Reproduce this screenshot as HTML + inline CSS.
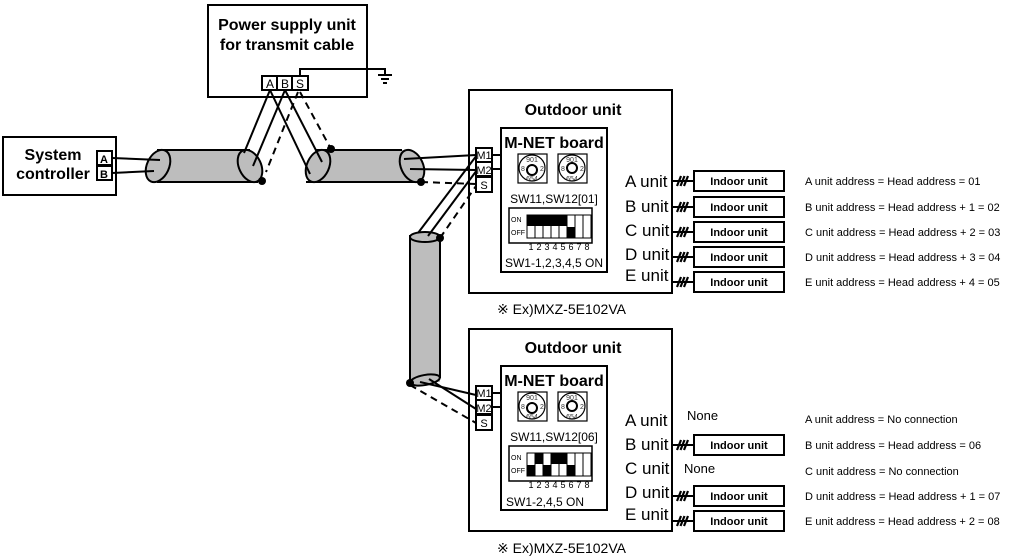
<!DOCTYPE html>
<html><head><meta charset="utf-8"><style>
body{margin:0;background:#fff}
svg{display:block;font-family:"Liberation Sans",sans-serif}
.b{font-weight:bold}
</style></head><body>
<svg width="1020" height="558" viewBox="0 0 1020 558" xmlns="http://www.w3.org/2000/svg">
<g fill="none" stroke="#000" stroke-width="2">
<rect x="208" y="5" width="159" height="92" fill="#fff"/>
<rect x="3" y="137" width="113" height="58" fill="#fff"/>
<rect x="469" y="90" width="203" height="203"/>
<rect x="469" y="329" width="203" height="202"/>
</g>
<text x="287" y="30" text-anchor="middle" class="b" font-size="16">Power supply unit</text>
<text x="287" y="50" text-anchor="middle" class="b" font-size="16">for transmit cable</text>
<text x="53" y="160" text-anchor="middle" class="b" font-size="16">System</text>
<text x="53" y="179" text-anchor="middle" class="b" font-size="16">controller</text>

<g stroke="#000" stroke-width="2" fill="#fff">
<rect x="262" y="76" width="15" height="14"/><rect x="277" y="76" width="15" height="14"/><rect x="292" y="76" width="16" height="14"/>
<rect x="97" y="151" width="15" height="14"/><rect x="97" y="166" width="15" height="14"/>
</g>
<g font-size="12" text-anchor="middle">
<text x="270" y="88">A</text><text x="285" y="88">B</text><text x="300" y="88">S</text>
<text x="104" y="163" class="b" font-size="11">A</text><text x="104" y="178" class="b" font-size="11">B</text>
</g>
<g stroke="#000" stroke-width="2" fill="none">
<polyline points="300,76 300,69 385,69 385,74"/>
<line x1="378" y1="75" x2="392" y2="75"/><line x1="381" y1="79" x2="389" y2="79"/><line x1="383" y1="83" x2="387" y2="83"/>
</g>

<g stroke="#000" stroke-width="2" fill="#bdbdbd">
<rect x="157" y="150" width="93" height="32" stroke="none"/>
<line x1="157" y1="150" x2="250" y2="150"/><line x1="157" y1="182" x2="258" y2="182"/>
<ellipse cx="158" cy="166" rx="11" ry="17" transform="rotate(25 158 166)"/>
<ellipse cx="250" cy="166" rx="11" ry="17" transform="rotate(-25 250 166)"/>
<rect x="316" y="150" width="96" height="32" stroke="none"/>
<line x1="316" y1="150" x2="402" y2="150"/><line x1="306" y1="182" x2="418" y2="182"/>
<ellipse cx="318" cy="166" rx="11" ry="17" transform="rotate(25 318 166)"/>
<ellipse cx="412" cy="166" rx="11" ry="17" transform="rotate(-25 412 166)"/>
<rect x="410" y="235" width="30" height="147" stroke="none"/>
<line x1="410" y1="235" x2="410" y2="383"/><line x1="440" y1="238" x2="440" y2="378"/>
<ellipse cx="425" cy="237" rx="15" ry="5"/>
<ellipse cx="425" cy="380" rx="15" ry="5" transform="rotate(-10 425 380)"/>
</g>
<g fill="#000">
<circle cx="262" cy="181" r="4"/><circle cx="331" cy="149" r="4"/><circle cx="421" cy="182" r="4"/>
<circle cx="440" cy="238" r="4"/><circle cx="410" cy="383" r="4"/>
</g>
<g stroke="#000" stroke-width="2" fill="none">
<line x1="112" y1="158" x2="160" y2="160"/><line x1="112" y1="173" x2="154" y2="171"/>
<line x1="270" y1="90" x2="244" y2="153"/><line x1="285" y1="90" x2="253" y2="166"/>
<line x1="270" y1="90" x2="310" y2="174"/><line x1="285" y1="90" x2="322" y2="162"/>
<line x1="404" y1="159" x2="476" y2="155"/><line x1="410" y1="169" x2="476" y2="170"/>
<line x1="418" y1="233" x2="477" y2="155"/><line x1="428" y1="236" x2="477" y2="170"/>
<line x1="420" y1="382" x2="476" y2="395"/><line x1="429" y1="379" x2="476" y2="409"/>
<g stroke-dasharray="7,5">
<line x1="298" y1="92" x2="266" y2="172"/><line x1="300" y1="92" x2="331" y2="149"/>
<line x1="421" y1="182" x2="476" y2="184"/><line x1="440" y1="238" x2="476" y2="186"/>
<line x1="410" y1="385" x2="476" y2="423"/>
</g>
</g>

<g id="od1">
<text x="573" y="115" text-anchor="middle" class="b" font-size="16">Outdoor unit</text>
<g stroke="#000" stroke-width="2" fill="#fff">
<rect x="476" y="148" width="16" height="14"/><rect x="476" y="162" width="16" height="14"/><rect x="476" y="177" width="16" height="15"/>
<rect x="501" y="128" width="106" height="144"/>
<line x1="492" y1="155" x2="501" y2="155"/><line x1="492" y1="169" x2="501" y2="169"/>
</g>
<g font-size="11" text-anchor="middle"><text x="484" y="159">M1</text><text x="484" y="174">M2</text><text x="484" y="189">S</text></g>
<text x="554" y="148" text-anchor="middle" class="b" font-size="16">M-NET board</text>
<g stroke="#000" fill="#fff" stroke-width="1.2">
<rect x="518" y="154" width="29" height="29"/><rect x="558" y="154" width="29" height="29"/>
<circle cx="532" cy="168" r="13"/><circle cx="572" cy="168" r="13"/>
<circle cx="532" cy="170" r="5" stroke-width="2"/><circle cx="572" cy="168" r="5" stroke-width="2"/>
</g>
<g font-size="7" text-anchor="middle" fill="#333"><text x="532" y="162">901</text><text x="532" y="181">654</text><text x="572" y="162">901</text><text x="572" y="181">654</text><text x="523" y="171">8</text><text x="542" y="171">2</text><text x="563" y="171">8</text><text x="582" y="171">2</text></g>
<rect x="509" y="208" width="83" height="35" fill="#fff" stroke="#000" stroke-width="1.5"/>
<text x="511" y="222" font-size="7">ON</text><text x="511" y="235" font-size="7">OFF</text>
<g stroke="#000" stroke-width="1" fill="#fff">
<rect x="527" y="215" width="8" height="23"/><rect x="535" y="215" width="8" height="23"/><rect x="543" y="215" width="8" height="23"/><rect x="551" y="215" width="8" height="23"/><rect x="559" y="215" width="8" height="23"/><rect x="567" y="215" width="8" height="23"/><rect x="575" y="215" width="8" height="23"/><rect x="583" y="215" width="8" height="23"/>
</g>
<g font-size="9" text-anchor="middle"><text x="531" y="250">1</text><text x="539" y="250">2</text><text x="547" y="250">3</text><text x="555" y="250">4</text><text x="563" y="250">5</text><text x="571" y="250">6</text><text x="579" y="250">7</text><text x="587" y="250">8</text></g>
</g>
<g fill="#000">
<rect x="527" y="215" width="40" height="11"/><rect x="567" y="227" width="8" height="11"/>
</g>
<text x="554" y="203" text-anchor="middle" font-size="12">SW11,SW12[01]</text>
<text x="554" y="267" text-anchor="middle" font-size="12">SW1-1,2,3,4,5 ON</text>

<use href="#od1" transform="translate(0,238)"/>
<text x="554" y="441" text-anchor="middle" font-size="12">SW11,SW12[06]</text>
<g fill="#000">
<rect x="527" y="465" width="8" height="11"/><rect x="535" y="453" width="8" height="11"/><rect x="543" y="465" width="8" height="11"/><rect x="551" y="453" width="16" height="11"/><rect x="567" y="465" width="8" height="11"/>
</g>
<text x="545" y="506" text-anchor="middle" font-size="12">SW1-2,4,5 ON</text>

<text x="497" y="314" font-size="14">※ Ex)MXZ-5E102VA</text>
<text x="497" y="553" font-size="14">※ Ex)MXZ-5E102VA</text>

<g font-size="17">
<text x="625" y="187">A unit</text><text x="625" y="212">B unit</text><text x="625" y="236">C unit</text><text x="625" y="260">D unit</text><text x="625" y="281">E unit</text>
<text x="625" y="426">A unit</text><text x="625" y="450">B unit</text><text x="625" y="474">C unit</text><text x="625" y="498">D unit</text><text x="625" y="520">E unit</text>
</g>
<g font-size="13"><text x="687" y="420">None</text><text x="684" y="473">None</text></g>

<g id="iu">
<g stroke="#000" stroke-width="2" fill="none">
<line x1="673" y1="181" x2="694" y2="181"/>
<g stroke-width="2.2"><line x1="677" y1="186" x2="681" y2="176"/><line x1="680.5" y1="186" x2="684.5" y2="176"/><line x1="684" y1="186" x2="688" y2="176"/></g>
<rect x="694" y="171" width="90" height="20" fill="#fff"/>
</g>
<text x="739" y="185" text-anchor="middle" class="b" font-size="11">Indoor unit</text>
</g>
<use href="#iu" transform="translate(0,26)"/>
<use href="#iu" transform="translate(0,51)"/>
<use href="#iu" transform="translate(0,76)"/>
<use href="#iu" transform="translate(0,101)"/>
<use href="#iu" transform="translate(0,264)"/>
<use href="#iu" transform="translate(0,315)"/>
<use href="#iu" transform="translate(0,340)"/>

<g font-size="11">
<text x="805" y="185">A unit address = Head address = 01</text>
<text x="805" y="211">B unit address = Head address + 1 = 02</text>
<text x="805" y="236">C unit address = Head address + 2 = 03</text>
<text x="805" y="261">D unit address = Head address + 3 = 04</text>
<text x="805" y="286">E unit address = Head address + 4 = 05</text>
<text x="805" y="423">A unit address = No connection</text>
<text x="805" y="449">B unit address = Head address = 06</text>
<text x="805" y="475">C unit address = No connection</text>
<text x="805" y="500">D unit address = Head address + 1 = 07</text>
<text x="805" y="525">E unit address = Head address + 2 = 08</text>
</g>
</svg>
</body></html>
